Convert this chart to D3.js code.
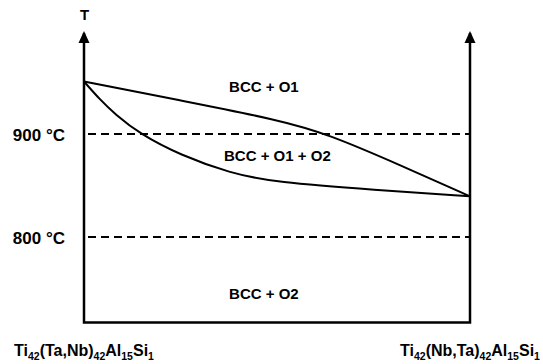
<!DOCTYPE html>
<html>
<head>
<meta charset="utf-8">
<script src="https://cdn.jsdelivr.net/npm/d3@7"></script>
<style>
  body { margin: 0; background: #fff; }
  text { font-family: "Liberation Sans", Arial, sans-serif; font-weight: bold; fill: #000; }
</style>
</head>
<body>
<div id="main"></div>
<script>
// dimensions
var svg_width = 543,
    svg_height = 364;

// data: composition fraction (0 = Ti42(Ta,Nb)..., 1 = Ti42(Nb,Ta)...) vs temperature (°C)
var upper_comp = [0, 0.259, 0.505, 0.632, 0.819, 1];
var upper_temp = [951, 932, 913.6, 900, 869.9, 839.5];

var lower_comp = [0, 0.041, 0.080, 0.145, 0.249, 0.378, 0.495, 0.754, 1];
var lower_temp = [951, 933.5, 919.4, 900, 879.6, 862.1, 853, 845.6, 839.5];

var ref_temps = [900, 800];
var ref_labels = ["900 °C", "800 °C"];

var region_labels = ["BCC + O1", "BCC + O1 + O2", "BCC + O2"];
var region_comp = [0.466, 0.501, 0.466];
var region_temp = [946, 879.6, 745];

var t_min = 717, t_max = 998;

var svg = d3.select("#main").append("svg")
    .attr("width", svg_width)
    .attr("height", svg_height);

var xScale = d3.scaleLinear().domain([0, 1]).range([84, 470]);
var yScale = d3.scaleLinear().domain([700, 1000]).range([340, 31]);

/** frame: two vertical axes + bottom **/
svg.append("path")
    .attr("d", "M" + xScale(0) + "," + yScale(t_max) + "V" + yScale(t_min) +
               "H" + xScale(1) + "V" + yScale(t_max))
    .attr("fill", "none")
    .attr("stroke", "#000")
    .attr("stroke-width", 2.5);

// arrow heads
[0, 1].forEach(function (c) {
    var x = xScale(c), y = yScale(t_max);
    svg.append("path")
        .attr("d", "M" + x + "," + (y - 2) + "L" + (x - 5.5) + "," + (y + 10) + "L" + (x + 5.5) + "," + (y + 10) + "Z")
        .attr("fill", "#000");
});

svg.append("text")
    .attr("x", xScale(0) + 0.5)
    .attr("y", 20)
    .attr("text-anchor", "middle")
    .style("font-size", "15px")
    .text("T");

/** dashed isotherms **/
svg.selectAll(".iso")
    .data(ref_temps)
    .enter().append("line")
    .attr("class", "iso")
    .attr("x1", xScale(0) + 4)
    .attr("x2", xScale(1))
    .attr("y1", function (d) { return yScale(d); })
    .attr("y2", function (d) { return yScale(d); })
    .attr("stroke", "#000")
    .attr("stroke-width", 2)
    .attr("stroke-dasharray", "8,5");

svg.selectAll(".iso-label")
    .data(ref_temps)
    .enter().append("text")
    .attr("class", "iso-label")
    .attr("x", 65)
    .attr("y", function (d) { return yScale(d) + 6.5; })
    .attr("text-anchor", "end")
    .style("font-size", "17px")
    .text(function (d, i) { return ref_labels[i]; });

/** phase boundaries **/
var line = d3.line()
    .x(function (d) { return xScale(d[0]); })
    .y(function (d) { return yScale(d[1]); })
    .curve(d3.curveBasis);

[[upper_comp, upper_temp], [lower_comp, lower_temp]].forEach(function (s) {
    svg.append("path")
        .datum(d3.zip(s[0], s[1]))
        .attr("d", line)
        .attr("fill", "none")
        .attr("stroke", "#000")
        .attr("stroke-width", 2);
});

/** region labels **/
svg.selectAll(".region")
    .data(region_labels)
    .enter().append("text")
    .attr("class", "region")
    .attr("x", function (d, i) { return xScale(region_comp[i]); })
    .attr("y", function (d, i) { return yScale(region_temp[i]) + 5.5; })
    .attr("text-anchor", "middle")
    .style("font-size", "15px")
    .text(function (d) { return d; });

/** composition labels **/
var comps = [
    [["Ti", "42"], ["(Ta,Nb)", "42"], ["Al", "15"], ["Si", "1"]],
    [["Ti", "42"], ["(Nb,Ta)", "42"], ["Al", "15"], ["Si", "1"]]
];

comps.forEach(function (parts, i) {
    var t = svg.append("text")
        .attr("x", xScale(i))
        .attr("y", 356)
        .attr("text-anchor", "middle")
        .style("font-size", "16px");
    parts.forEach(function (p, j) {
        t.append("tspan")
            .attr("dy", j === 0 ? 0 : -4)
            .text(p[0]);
        t.append("tspan")
            .attr("dy", 4)
            .style("font-size", "10.5px")
            .text(p[1]);
    });
});
</script>
</body>
</html>
